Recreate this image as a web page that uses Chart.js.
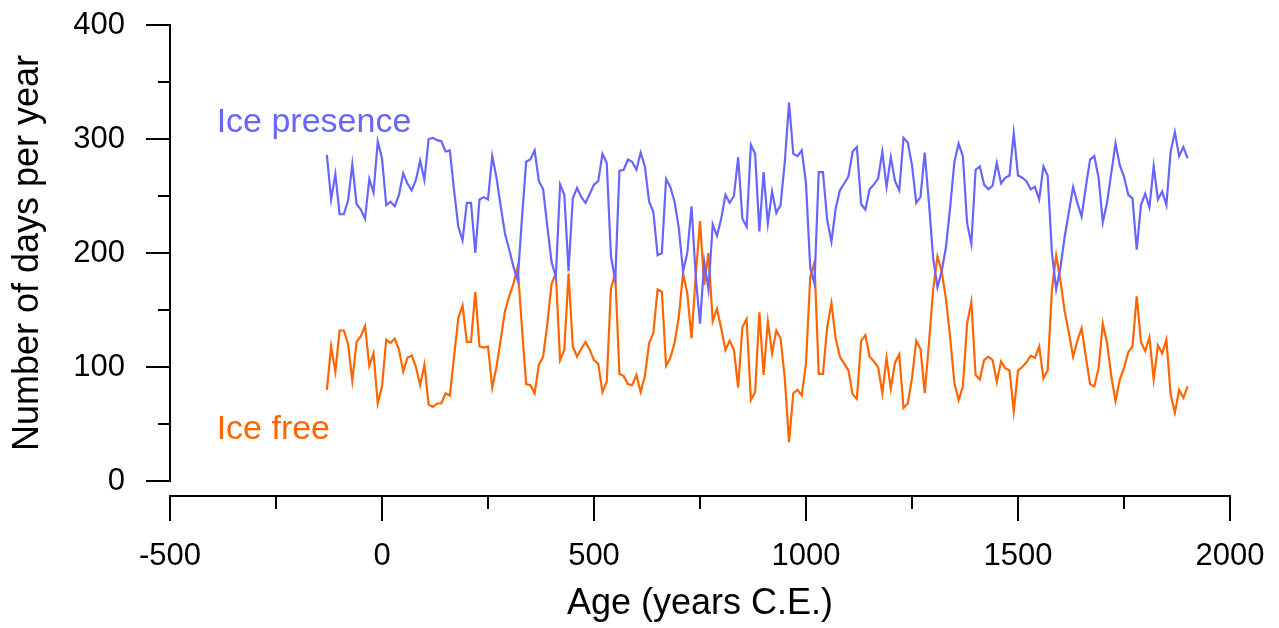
<!DOCTYPE html>
<html>
<head>
<meta charset="utf-8">
<script src="https://cdn.jsdelivr.net/npm/chart.js@4/dist/chart.umd.min.js"></script>
<style>
  html, body { margin: 0; padding: 0; background: #fff; }
</style>
</head>
<body>
<canvas id="myChart" width="1279" height="628"></canvas>
<script>
// ages (years C.E.), one sample per decade
const ages = [
	-130, -120, -110, -100, -90, -80, -70, -60, -50, -40,
	-30, -20, -10, 0, 10, 20, 30, 40, 50, 60,
	70, 80, 90, 100, 110, 120, 130, 140, 150, 160,
	170, 180, 190, 200, 210, 220, 230, 240, 250, 260,
	270, 280, 290, 300, 310, 320, 330, 340, 350, 360,
	370, 380, 390, 400, 410, 420, 430, 440, 450, 460,
	470, 480, 490, 500, 510, 520, 530, 540, 550, 560,
	570, 580, 590, 600, 610, 620, 630, 640, 650, 660,
	670, 680, 690, 700, 710, 720, 730, 740, 750, 760,
	770, 780, 790, 800, 810, 820, 830, 840, 850, 860,
	870, 880, 890, 900, 910, 920, 930, 940, 950, 960,
	970, 980, 990, 1000, 1010, 1020, 1030, 1040, 1050, 1060,
	1070, 1080, 1090, 1100, 1110, 1120, 1130, 1140, 1150, 1160,
	1170, 1180, 1190, 1200, 1210, 1220, 1230, 1240, 1250, 1260,
	1270, 1280, 1290, 1300, 1310, 1320, 1330, 1340, 1350, 1360,
	1370, 1380, 1390, 1400, 1410, 1420, 1430, 1440, 1450, 1460,
	1470, 1480, 1490, 1500, 1510, 1520, 1530, 1540, 1550, 1560,
	1570, 1580, 1590, 1600, 1610, 1620, 1630, 1640, 1650, 1660,
	1670, 1680, 1690, 1700, 1710, 1720, 1730, 1740, 1750, 1760,
	1770, 1780, 1790, 1800, 1810, 1820, 1830, 1840, 1850, 1860,
	1870, 1880, 1890, 1900
]

const icePresence = [
	286, 247, 269, 234, 234, 246, 278, 243, 238, 230,
	265, 253, 298, 283, 242, 245, 241, 251, 270, 261,
	255, 264, 281, 264, 300, 301, 299, 298, 289, 290,
	255, 223, 211, 244, 244, 200, 247, 249, 247, 285,
	266, 241, 217, 203, 188, 176, 230, 280, 282, 290,
	263, 256, 223, 192, 179, 260, 251, 184, 248, 257,
	249, 244, 252, 260, 263, 287, 279, 197, 176, 272,
	273, 282, 280, 273, 288, 276, 245, 236, 198, 200,
	265, 258, 245, 222, 184, 200, 241, 179, 138, 192,
	168, 225, 215, 230, 251, 244, 250, 284, 230, 223,
	295, 287, 219, 271, 226, 254, 235, 242, 280, 332,
	287, 285, 290, 261, 187, 173, 271, 271, 229, 210,
	239, 255, 261, 267, 289, 293, 243, 238, 256, 260,
	265, 289, 258, 284, 263, 255, 301, 297, 277, 244,
	249, 288, 244, 195, 170, 184, 205, 240, 280, 296,
	285, 226, 208, 273, 276, 260, 256, 259, 279, 261,
	266, 268, 305, 268, 266, 263, 256, 258, 247, 276,
	268, 200, 168, 187, 214, 236, 258, 244, 232, 258,
	282, 285, 266, 227, 244, 270, 296, 277, 267, 251,
	248, 203, 242, 252, 240, 276, 247, 254, 242, 289,
	306, 285, 293, 283
]

const iceFree = [
	80, 118, 96, 132, 132, 120, 88, 122, 127, 136,
	101, 112, 68, 83, 124, 121, 125, 115, 96, 108,
	110, 100, 84, 102, 67, 65, 68, 68, 77, 75,
	109, 143, 154, 122, 122, 166, 118, 117, 118, 82,
	100, 124, 149, 162, 173, 188, 135, 85, 84, 77,
	102, 109, 138, 173, 182, 106, 115, 182, 118, 109,
	116, 122, 115, 106, 103, 78, 87, 169, 182, 94,
	92, 85, 84, 93, 78, 92, 121, 130, 168, 166,
	101, 108, 121, 144, 182, 165, 125, 180, 228, 172,
	200, 140, 151, 134, 115, 123, 115, 82, 135, 142,
	71, 78, 148, 93, 140, 112, 132, 125, 90, 34,
	77, 80, 75, 103, 179, 192, 94, 94, 135, 156,
	125, 109, 103, 97, 76, 72, 123, 128, 109, 105,
	100, 77, 108, 81, 104, 111, 64, 68, 90, 123,
	116, 77, 121, 168, 197, 184, 160, 126, 86, 71,
	83, 138, 157, 93, 89, 106, 109, 106, 87, 105,
	99, 97, 61, 97, 100, 104, 110, 108, 118, 90,
	97, 168, 198, 176, 149, 130, 109, 123, 134, 109,
	85, 83, 99, 138, 121, 92, 70, 89, 99, 113,
	118, 162, 122, 114, 126, 89, 119, 112, 124, 76,
	60, 80, 73, 83
]

const yMajor = [0, 100, 200, 300, 400]
const yMinor = [50, 150, 250, 350]
const xMajor = [-500, 0, 500, 1000, 1500, 2000]
const xMinor = [-250, 250, 750, 1250, 1750]

const FONT = '"Liberation Sans", Arial, Helvetica, sans-serif'
const BLUE = '#6666ff'
const ORANGE = '#ff6600'

// axis lines and ticks are drawn by hand, like the original figure (x axis sits below y = 0)
const axisLines = {
	id: 'axisLines',
	afterDraw(chart) {
		const ctx = chart.ctx
		const xs = chart.scales.x
		const ys = chart.scales.y
		const left = xs.getPixelForValue(-500)
		const axisY = ys.getPixelForValue(0) + 15
		ctx.save()
		ctx.strokeStyle = '#000'
		ctx.lineWidth = 2
		ctx.lineCap = 'butt'
		ctx.beginPath()
		ctx.moveTo(left, ys.getPixelForValue(400) - 1)
		ctx.lineTo(left, ys.getPixelForValue(0))
		yMajor.forEach(v => {
			const p = ys.getPixelForValue(v)
			ctx.moveTo(left + 1, p)
			ctx.lineTo(left - 24, p)
		})
		yMinor.forEach(v => {
			const p = ys.getPixelForValue(v)
			ctx.moveTo(left, p)
			ctx.lineTo(left - 12, p)
		})
		ctx.moveTo(left - 1, axisY)
		ctx.lineTo(xs.getPixelForValue(2000) + 1, axisY)
		xMajor.forEach(v => {
			const p = xs.getPixelForValue(v)
			ctx.moveTo(p, axisY)
			ctx.lineTo(p, axisY + 25)
		})
		xMinor.forEach(v => {
			const p = xs.getPixelForValue(v)
			ctx.moveTo(p, axisY)
			ctx.lineTo(p, axisY + 13)
		})
		ctx.stroke()

		ctx.font = '34px ' + FONT
		ctx.textAlign = 'left'
		ctx.textBaseline = 'middle'
		ctx.fillStyle = BLUE
		ctx.fillText('Ice presence', xs.getPixelForValue(-390), ys.getPixelForValue(314))
		ctx.fillStyle = ORANGE
		ctx.fillText('Ice free', xs.getPixelForValue(-390), ys.getPixelForValue(45))
		ctx.restore()
	}
}

function getChart() {
	const context = document.getElementById('myChart')
	const data = {
		datasets: [
			{
				label: 'Ice presence',
				data: ages.map((a, i) => ({ x: a, y: icePresence[i] })),
				borderColor: BLUE,
				backgroundColor: BLUE,
				borderWidth: 2.2,
				pointRadius: 0,
				tension: 0,
			},
			{
				label: 'Ice free',
				data: ages.map((a, i) => ({ x: a, y: iceFree[i] })),
				borderColor: ORANGE,
				backgroundColor: ORANGE,
				borderWidth: 2.2,
				pointRadius: 0,
				tension: 0,
			}
		]
	}
	const config = {
		type: 'line',
		data: data,
		options: {
			responsive: false,
			animation: false,
			layout: { padding: { top: 25, right: 49, left: 0, bottom: 0 } },
			plugins: {
				legend: { display: false },
				tooltip: { enabled: false },
			},
			scales: {
				x: {
					type: 'linear',
					min: -500,
					max: 2000,
					afterBuildTicks: s => { s.ticks = xMajor.map(v => ({ value: v })) },
					afterFit: s => { s.height = 147 },
					// invisible tick marks only push the labels down
					grid: { display: false, drawTicks: true, tickLength: 57 },
					border: { display: false },
					ticks: {
						color: '#000',
						padding: 0,
						maxRotation: 0,
						font: { family: FONT, size: 31 },
						callback: v => String(v),
					},
					title: {
						display: true,
						text: 'Age (years C.E.)',
						color: '#000',
						padding: { top: 0, bottom: 2 },
						font: { family: FONT, size: 36 },
					},
				},
				y: {
					min: 0,
					max: 400,
					afterBuildTicks: s => { s.ticks = yMajor.map(v => ({ value: v })) },
					afterFit: s => { s.width = 170 },
					grid: { display: false, drawTicks: true, tickLength: 45 },
					border: { display: false },
					ticks: {
						color: '#000',
						padding: 0,
						font: { family: FONT, size: 31 },
						callback: v => String(v),
					},
					title: {
						display: true,
						text: 'Number of days per year',
						color: '#000',
						padding: { top: 6, bottom: 0 },
						font: { family: FONT, size: 36 },
					},
				},
			},
		},
		plugins: [axisLines],
	}
	return new Chart(context, config)
}

getChart()
</script>
</body>
</html>
